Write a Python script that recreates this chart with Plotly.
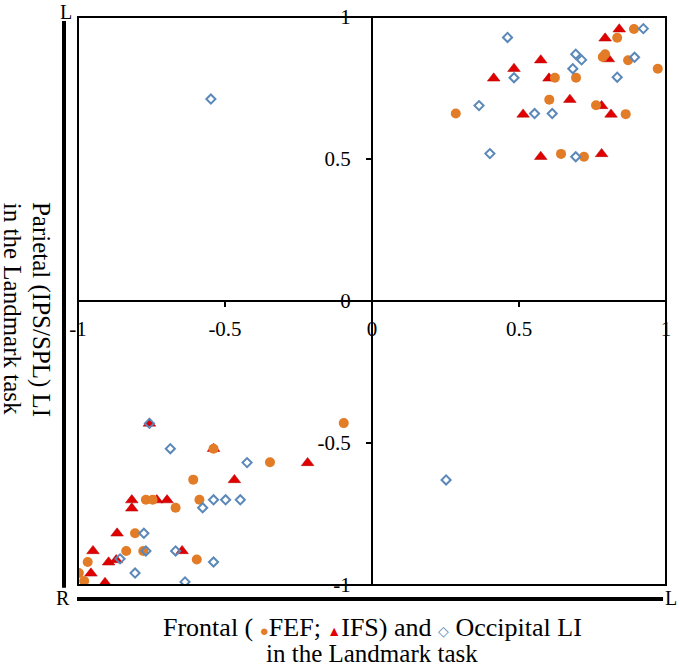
import plotly.graph_objects as go

# FEF (orange circles)
fef_x = [0.285, 0.603, 0.622, 0.694, 0.762, 0.785, 0.793, 0.834, 0.891, 0.871, 0.972, 0.863, 0.643, 0.721,
         -0.096, -0.539, -0.347, -0.608, -0.769, -0.746, -0.587, -0.668, -0.806, -0.836, -0.778, -0.596,
         -0.967, -0.997, -0.979]
fef_y = [0.660, 0.709, 0.786, 0.786, 0.689, 0.859, 0.869, 0.927, 0.958, 0.848, 0.818, 0.658, 0.518, 0.508,
         -0.430, -0.520, -0.568, -0.629, -0.700, -0.700, -0.700, -0.728, -0.818, -0.880, -0.880, -0.910,
         -0.919, -0.958, -0.986]

# IFS (red triangles)
ifs_x = [0.414, 0.483, 0.574, 0.602, 0.514, 0.673, 0.781, 0.813, 0.804, 0.793, 0.841, 0.574, 0.781,
         -0.757, -0.539, -0.219, -0.468, -0.817, -0.732, -0.697, -0.817, -0.867, -0.949, -0.646, -0.896,
         -0.870, -0.956, -0.908]
ifs_y = [0.784, 0.818, 0.848, 0.784, 0.657, 0.709, 0.687, 0.657, 0.852, 0.925, 0.957, 0.508, 0.518,
         -0.431, -0.520, -0.570, -0.630, -0.701, -0.701, -0.701, -0.730, -0.818, -0.880, -0.880, -0.920,
         -0.912, -0.959, -0.992]

# Occipital (blue open diamonds)
occ_x = [0.461, 0.483, 0.364, 0.553, 0.613, 0.683, 0.693, 0.713, 0.834, 0.893, 0.923, 0.401, 0.693,
         -0.548, 0.252,
         -0.757, -0.686, -0.425, -0.539, -0.498, -0.448, -0.576, -0.776, -0.769, -0.668, -0.857, -0.539,
         -0.806, -0.636]
occ_y = [0.928, 0.786, 0.688, 0.660, 0.660, 0.818, 0.869, 0.849, 0.788, 0.858, 0.959, 0.519, 0.508,
         0.711, -0.630,
         -0.431, -0.520, -0.569, -0.700, -0.700, -0.700, -0.728, -0.818, -0.880, -0.880, -0.908, -0.919,
         -0.958, -0.989]

tick_vals = [-1, -0.5, 0, 0.5, 1]
tick_text = ["-1", "-0.5", "0", "0.5", "1"]

SERIF = "Liberation Serif"
ORANGE = "#E27C26"
RED = "#E00000"
BLUE = "#5A88B8"

fig = go.Figure()
fig.add_trace(go.Scatter(x=ifs_x, y=ifs_y, mode="markers", name="IFS",
                         marker=dict(symbol="triangle-up", size=11, color=RED,
                                     line=dict(color="#B00000", width=0.5))))
fig.add_trace(go.Scatter(x=fef_x, y=fef_y, mode="markers", name="FEF",
                         marker=dict(symbol="circle", size=10, color=ORANGE,
                                     line=dict(color=ORANGE, width=0))))
fig.add_trace(go.Scatter(x=occ_x, y=occ_y, mode="markers", name="Occipital",
                         marker=dict(symbol="diamond-open", size=7, color=BLUE,
                                     line=dict(color=BLUE, width=2))))

axis_common = dict(range=[-1, 1], showgrid=False, zeroline=False, showline=True,
                   linecolor="black", linewidth=2, ticks="outside", ticklen=5,
                   tickwidth=2, tickcolor="black", tickvals=tick_vals, ticktext=tick_text,
                   tickfont=dict(family=SERIF, size=21, color="black"),
                   anchor="free", position=0.5, domain=[0, 1], fixedrange=True,
                   automargin=False)

fig.update_layout(
    width=680, height=668,
    margin=dict(l=78, r=14, t=17, b=83, autoexpand=False),
    paper_bgcolor="white", plot_bgcolor="white",
    showlegend=False,
    font=dict(family=SERIF, color="black"),
    xaxis=dict(axis_common, ticklabelstandoff=4),
    yaxis=dict(axis_common, ticklabelstandoff=11),
)

# frame
fig.add_shape(type="rect", xref="paper", yref="paper", x0=0, x1=1, y0=0, y1=1,
              line=dict(color="black", width=2), layer="above")
# decorative thick lines
fig.add_shape(type="line", xref="paper", yref="paper", x0=-0.0238, x1=-0.0238,
              y0=-0.005, y1=0.993, line=dict(color="black", width=4))
fig.add_shape(type="line", xref="paper", yref="paper", x0=-0.0017, x1=0.995,
              y0=-0.0246, y1=-0.0246, line=dict(color="black", width=4))

fig.add_annotation(xref="paper", yref="paper", x=-0.0204, y=1.0088, text="L", showarrow=False,
                   font=dict(family=SERIF, size=20), xanchor="center", yanchor="middle")
fig.add_annotation(xref="paper", yref="paper", x=-0.0255, y=-0.0229, text="R", showarrow=False,
                   font=dict(family=SERIF, size=20), xanchor="center", yanchor="middle")
fig.add_annotation(xref="paper", yref="paper", x=1.0085, y=-0.0229, text="L", showarrow=False,
                   font=dict(family=SERIF, size=20), xanchor="center", yanchor="middle")

xtitle1 = ("Frontal ( <span style='color:%s;font-size:15px'>●</span>FEF; "
           "<span style='color:%s;font-size:14px'>▲</span>IFS) and "
           "<span style='color:%s;font-size:14px'>◇</span> Occipital LI"
           % (ORANGE, RED, BLUE))
fig.add_annotation(xref="paper", yref="paper", x=0.5, y=-0.0757, text=xtitle1, showarrow=False,
                   font=dict(family=SERIF, size=26), xanchor="center", yanchor="middle")
fig.add_annotation(xref="paper", yref="paper", x=0.5, y=-0.121, text="in the Landmark task",
                   showarrow=False, font=dict(family=SERIF, size=25),
                   xanchor="center", yanchor="middle")

fig.add_annotation(xref="paper", yref="paper", x=-0.0629, y=0.486,
                   text="Parietal (IPS/SPL) LI", textangle=90,
                   showarrow=False, font=dict(family=SERIF, size=25),
                   xanchor="center", yanchor="middle")
fig.add_annotation(xref="paper", yref="paper", x=-0.112, y=0.486,
                   text="in the Landmark task", textangle=90,
                   showarrow=False, font=dict(family=SERIF, size=25),
                   xanchor="center", yanchor="middle")

fig.write_html("out.html", config={"displayModeBar": False},
               post_script="document.body.style.margin='0';document.body.style.padding='0';")
